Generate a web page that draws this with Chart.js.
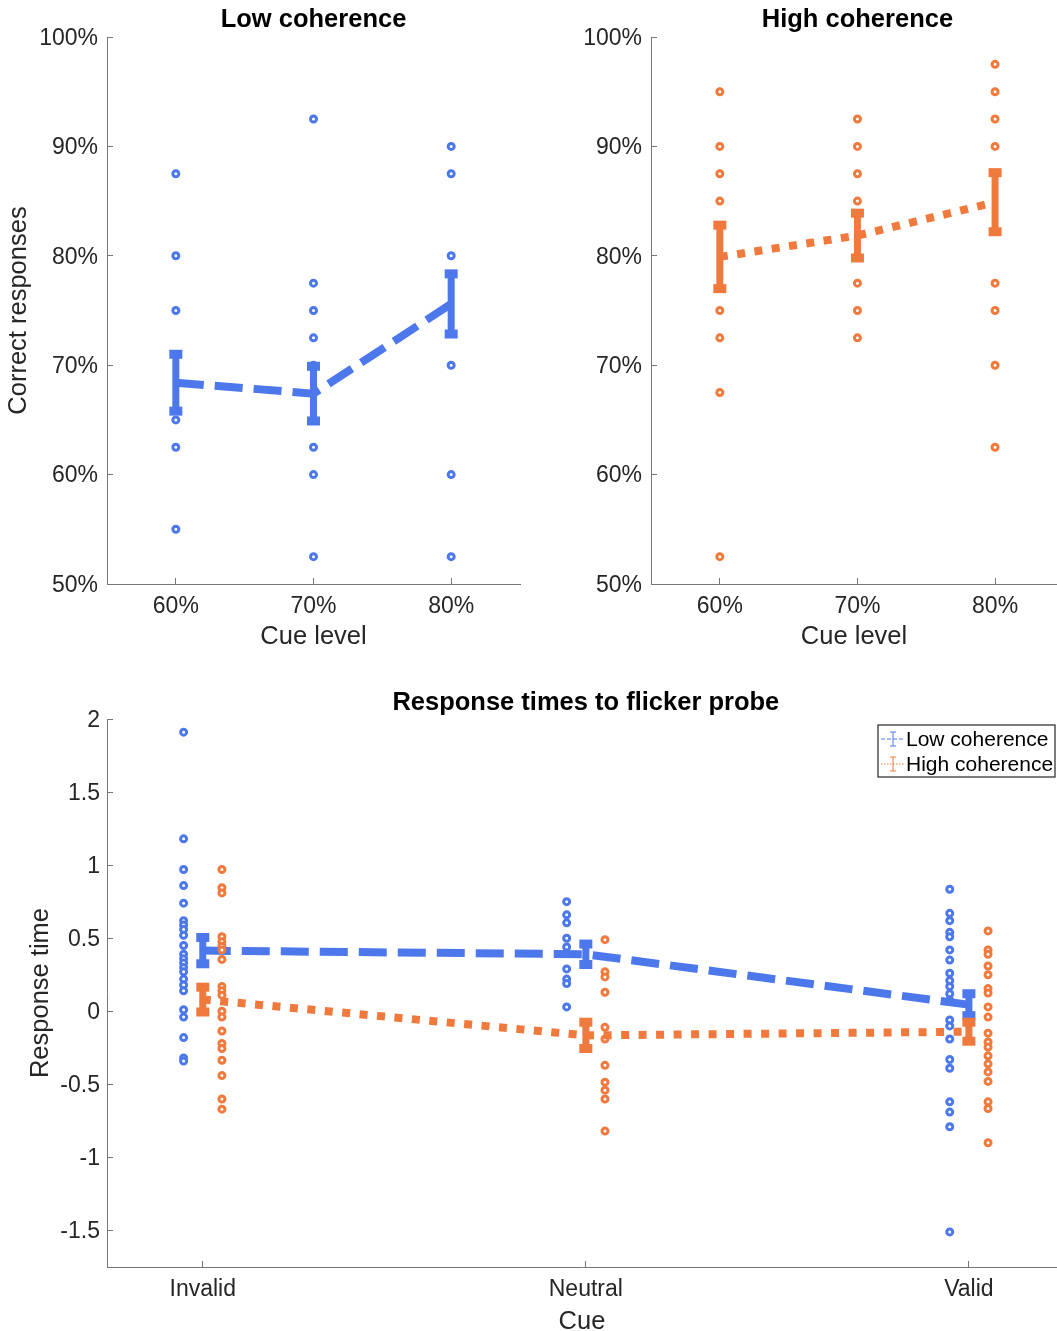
<!DOCTYPE html>
<html>
<head>
<meta charset="utf-8">
<title>Coherence and cue effects</title>
<script src="https://cdn.jsdelivr.net/npm/chart.js@4.4.1/dist/chart.umd.min.js"></script>
<style>
  html, body { margin: 0; padding: 0; background: #fff; overflow: hidden; }
  .panel { position: absolute; }
</style>
</head>
<body>
<div class="panel" style="left:0;top:0"><canvas id="accLow" width="540" height="660"></canvas></div>
<div class="panel" style="left:540px;top:0"><canvas id="accHigh" width="517" height="660"></canvas></div>
<div class="panel" style="left:0;top:660px"><canvas id="rtChart" width="1057" height="671"></canvas></div>
<script>
// ---- data ----
const cueLevels = ['60%', '70%', '80%'];
const cueTypes = ['Invalid', 'Neutral', 'Valid'];
const pctTicks = [50, 60, 70, 80, 90, 100];
const rtTicks = [-1.5, -1, -0.5, 0, 0.5, 1, 1.5, 2];

// accuracy (%) per subject, one array per cue level
const lowAcc60 = [87.5, 80, 75, 65, 62.5, 55];
const lowAcc70 = [92.5, 77.5, 75, 72.5, 70, 62.5, 60, 52.5];
const lowAcc80 = [90, 87.5, 80, 70, 60, 52.5];
const highAcc60 = [95, 90, 87.5, 85, 75, 72.5, 67.5, 52.5];
const highAcc70 = [92.5, 90, 87.5, 85, 77.5, 75, 72.5];
const highAcc80 = [97.5, 95, 92.5, 90, 77.5, 75, 70, 62.5];
const lowAccMean = [68.4, 67.4, 75.6];
const lowAccErr = [2.6, 2.5, 2.75];
const highAccMean = [79.9, 81.85, 84.9];
const highAccErr = [2.9, 2.05, 2.7];

// response times per subject, one array per cue type
const lowRtInvalid = [1.91, 1.18, 0.97, 0.86, 0.74, 0.62, 0.59, 0.56, 0.52, 0.45, 0.39, 0.36, 0.33, 0.30, 0.27, 0.22, 0.18, 0.14, 0.01, -0.04, -0.18, -0.32, -0.34];
const lowRtNeutral = [0.75, 0.66, 0.605, 0.50, 0.44, 0.29, 0.22, 0.19, 0.03];
const lowRtValid = [0.835, 0.67, 0.62, 0.54, 0.51, 0.42, 0.35, 0.26, 0.21, 0.17, 0.12, 0.075, -0.06, -0.1, -0.19, -0.33, -0.39, -0.62, -0.69, -0.79, -1.51];
const highRtInvalid = [0.97, 0.845, 0.81, 0.51, 0.475, 0.445, 0.42, 0.355, 0.17, 0.14, 0.11, 0.0, -0.04, -0.135, -0.22, -0.255, -0.335, -0.44, -0.6, -0.67];
const highRtNeutral = [0.49, 0.27, 0.235, 0.13, -0.11, -0.19, -0.37, -0.485, -0.54, -0.6, -0.82];
const highRtValid = [0.55, 0.42, 0.39, 0.31, 0.25, 0.155, 0.125, 0.03, -0.04, -0.15, -0.21, -0.245, -0.305, -0.36, -0.415, -0.48, -0.62, -0.665, -0.9];
const lowRtMean = [0.415, 0.39, 0.045];
const lowRtErr = [0.09, 0.07, 0.075];
const highRtMean = [0.08, -0.165, -0.14];
const highRtErr = [0.085, 0.09, 0.065];

// ---- styling ----
const BLUE = '#4d78ec';
const ORANGE = '#f07a3d';
const TEXT = '#262626';
const AXIS = '#767676';
const FONT = '"Liberation Sans", Arial, Helvetica, sans-serif';
Chart.defaults.font.family = FONT;
Chart.defaults.color = TEXT;
Chart.defaults.animation = false;

function scatterPoints(groups, offset) {
    return groups.flatMap((vals, i) => vals.map(v => ({ x: i + 1 + offset, y: v })));
}
function meanPoints(means) {
    return means.map((m, i) => ({ x: i + 1, y: m }));
}

function pointSet(label, groups, offset, color, order) {
    return {
        label: label, data: scatterPoints(groups, offset), order: order,
        pointRadius: 3, pointBorderWidth: 3, pointHoverRadius: 3,
        pointBackgroundColor: '#fff', pointBorderColor: color, showLine: false
    };
}
function lineSet(label, means, errs, color, dash, order) {
    return {
        label: label, data: meanPoints(means), errors: errs, order: order,
        showLine: true, borderColor: color, backgroundColor: color, borderWidth: 8,
        borderDash: dash, borderCapStyle: 'butt', pointRadius: 0, pointHoverRadius: 0
    };
}

// error bars are drawn right after their mean line
const errorBars = {
    id: 'errorBars',
    afterDatasetDraw(chart, args) {
        const ds = chart.data.datasets[args.index];
        if (!ds.errors) return;
        const { ctx, scales: { x, y } } = chart;
        ctx.save();
        ctx.strokeStyle = ds.borderColor;
        ctx.fillStyle = ds.borderColor;
        ds.data.forEach((p, i) => {
            const px = x.getPixelForValue(p.x);
            const top = y.getPixelForValue(p.y + ds.errors[i]);
            const bot = y.getPixelForValue(p.y - ds.errors[i]);
            ctx.lineWidth = 7;
            ctx.beginPath();
            ctx.moveTo(px, top);
            ctx.lineTo(px, bot);
            ctx.stroke();
            ctx.fillRect(px - 6.5, top - 4.5, 13, 9);
            ctx.fillRect(px - 6.5, bot - 4.5, 13, 9);
        });
        ctx.restore();
    }
};

// bold title centred over a value of the x scale
const panelTitle = {
    id: 'panelTitle',
    afterDraw(chart, args, opts) {
        if (!opts.text) return;
        const { ctx } = chart;
        ctx.save();
        ctx.font = 'bold 25.5px ' + FONT;
        ctx.fillStyle = '#000';
        ctx.textAlign = 'center';
        ctx.textBaseline = 'alphabetic';
        ctx.fillText(opts.text, chart.scales.x.getPixelForValue(opts.atX), opts.y);
        ctx.restore();
    }
};

// boxed legend in the top right corner of the plot area
const boxLegend = {
    id: 'boxLegend',
    afterDraw(chart, args, opts) {
        if (!opts.display) return;
        const { ctx, chartArea } = chart;
        const items = chart.data.datasets.filter(d => d.errors);
        const right = chartArea.right - 2, top = chartArea.top + 6;
        const w = 177, rowH = 25, h = rowH * items.length + 2;
        const left = right - w;
        ctx.save();
        ctx.fillStyle = '#fff';
        ctx.fillRect(left, top, w, h);
        ctx.strokeStyle = '#262626';
        ctx.lineWidth = 1.2;
        ctx.strokeRect(left, top, w, h);
        ctx.font = '21px ' + FONT;
        ctx.textBaseline = 'middle';
        items.forEach((d, i) => {
            const cy = top + 14 + i * rowH;
            ctx.strokeStyle = d.borderColor;
            ctx.lineWidth = 1;
            ctx.setLineDash(i === 0 ? [4, 2] : [1.5, 1.5]);
            ctx.beginPath();
            ctx.moveTo(left + 3, cy);
            ctx.lineTo(left + 27, cy);
            ctx.stroke();
            ctx.setLineDash([]);
            const gx = left + 15;
            ctx.beginPath();
            ctx.moveTo(gx, cy - 7); ctx.lineTo(gx, cy + 7);
            ctx.moveTo(gx - 3, cy - 7); ctx.lineTo(gx + 3, cy - 7);
            ctx.moveTo(gx - 3, cy + 7); ctx.lineTo(gx + 3, cy + 7);
            ctx.stroke();
            ctx.fillStyle = '#000';
            ctx.fillText(d.label, left + 28, cy + 1);
        });
        ctx.restore();
    }
};

function xScale(min, max, names, height, titleText, titleBottom) {
    return {
        type: 'linear', min: min, max: max,
        afterBuildTicks: s => { s.ticks = names.map((n, i) => ({ value: i + 1 })); },
        afterFit: s => { s.height = height; s.paddingLeft = 0; s.paddingRight = 0; },
        ticks: { callback: v => names[v - 1], font: { size: 23 }, color: TEXT, padding: 15, maxRotation: 0, autoSkip: false },
        grid: { drawOnChartArea: false, tickLength: -6, tickColor: AXIS, color: AXIS },
        border: { color: AXIS, width: 1 },
        title: { display: true, text: titleText, font: { size: 25.5, lineHeight: 1 }, color: TEXT, padding: { top: 0, bottom: titleBottom } }
    };
}
function yScale(min, max, tickVals, fmt, width, pad, titleText, titleLeft) {
    return {
        type: 'linear', min: min, max: max,
        afterBuildTicks: s => { s.ticks = tickVals.map(v => ({ value: v })); },
        afterFit: s => { s.width = width; },
        ticks: { callback: fmt, font: { size: 23 }, color: TEXT, padding: pad, labelOffset: 1.5, autoSkip: false },
        grid: { drawOnChartArea: false, tickLength: -6, tickColor: AXIS, color: AXIS },
        border: { color: AXIS, width: 1 },
        title: { display: !!titleText, text: titleText || '', font: { size: 25.5, lineHeight: 1 }, color: TEXT, padding: { top: titleLeft, bottom: 0 } }
    };
}

function baseOptions(padding, scales, plugins) {
    return {
        responsive: false,
        layout: { padding: padding, autoPadding: false },
        scales: scales,
        plugins: Object.assign({ legend: { display: false }, tooltip: { enabled: false } }, plugins)
    };
}

// ---- top left: low coherence accuracy ----
new Chart(document.getElementById('accLow'), {
    type: 'scatter',
    data: { datasets: [
        pointSet('Low coherence subjects', [lowAcc60, lowAcc70, lowAcc80], 0, BLUE, 2),
        lineSet('Low coherence', lowAccMean, lowAccErr, BLUE, [28, 11], 1)
    ] },
    options: baseOptions({ top: 37, right: 20, left: 0, bottom: 0 }, {
        x: xScale(0.5, 3.5, cueLevels, 76, 'Cue level', 10),
        y: yScale(50, 100, pctTicks, v => v + '%', 107, 15, 'Correct responses', 6)
    }, { panelTitle: { text: 'Low coherence', atX: 2, y: 27 } }),
    plugins: [errorBars, panelTitle]
});

// ---- top right: high coherence accuracy ----
new Chart(document.getElementById('accHigh'), {
    type: 'scatter',
    data: { datasets: [
        pointSet('High coherence subjects', [highAcc60, highAcc70, highAcc80], 0, ORANGE, 2),
        lineSet('High coherence', highAccMean, highAccErr, ORANGE, [8, 9.5], 1)
    ] },
    options: baseOptions({ top: 37, right: 0, left: 0, bottom: 0 }, {
        x: xScale(0.5, 3.45, cueLevels, 76, 'Cue level', 10),
        y: yScale(50, 100, pctTicks, v => v + '%', 111, 15, null, 0)
    }, { panelTitle: { text: 'High coherence', atX: 2, y: 27 } }),
    plugins: [errorBars, panelTitle]
});

// ---- bottom: response times ----
new Chart(document.getElementById('rtChart'), {
    type: 'scatter',
    data: { datasets: [
        pointSet('Low coherence subjects', [lowRtInvalid, lowRtNeutral, lowRtValid], -0.05, BLUE, 4),
        lineSet('Low coherence', lowRtMean, lowRtErr, BLUE, [28, 11], 3),
        pointSet('High coherence subjects', [highRtInvalid, highRtNeutral, highRtValid], 0.05, ORANGE, 2),
        lineSet('High coherence', highRtMean, highRtErr, ORANGE, [8, 9.5], 1)
    ] },
    options: baseOptions({ top: 59, right: 0, left: 0, bottom: 0 }, {
        x: xScale(0.75, 3.23, cueTypes, 64, 'Cue', -4),
        y: yScale(-1.75, 2, rtTicks, v => String(v), 107, 13, 'Response time', 28)
    }, {
        panelTitle: { text: 'Response times to flicker probe', atX: 2, y: 50 },
        boxLegend: { display: true }
    }),
    plugins: [errorBars, panelTitle, boxLegend]
});
</script>
</body>
</html>
